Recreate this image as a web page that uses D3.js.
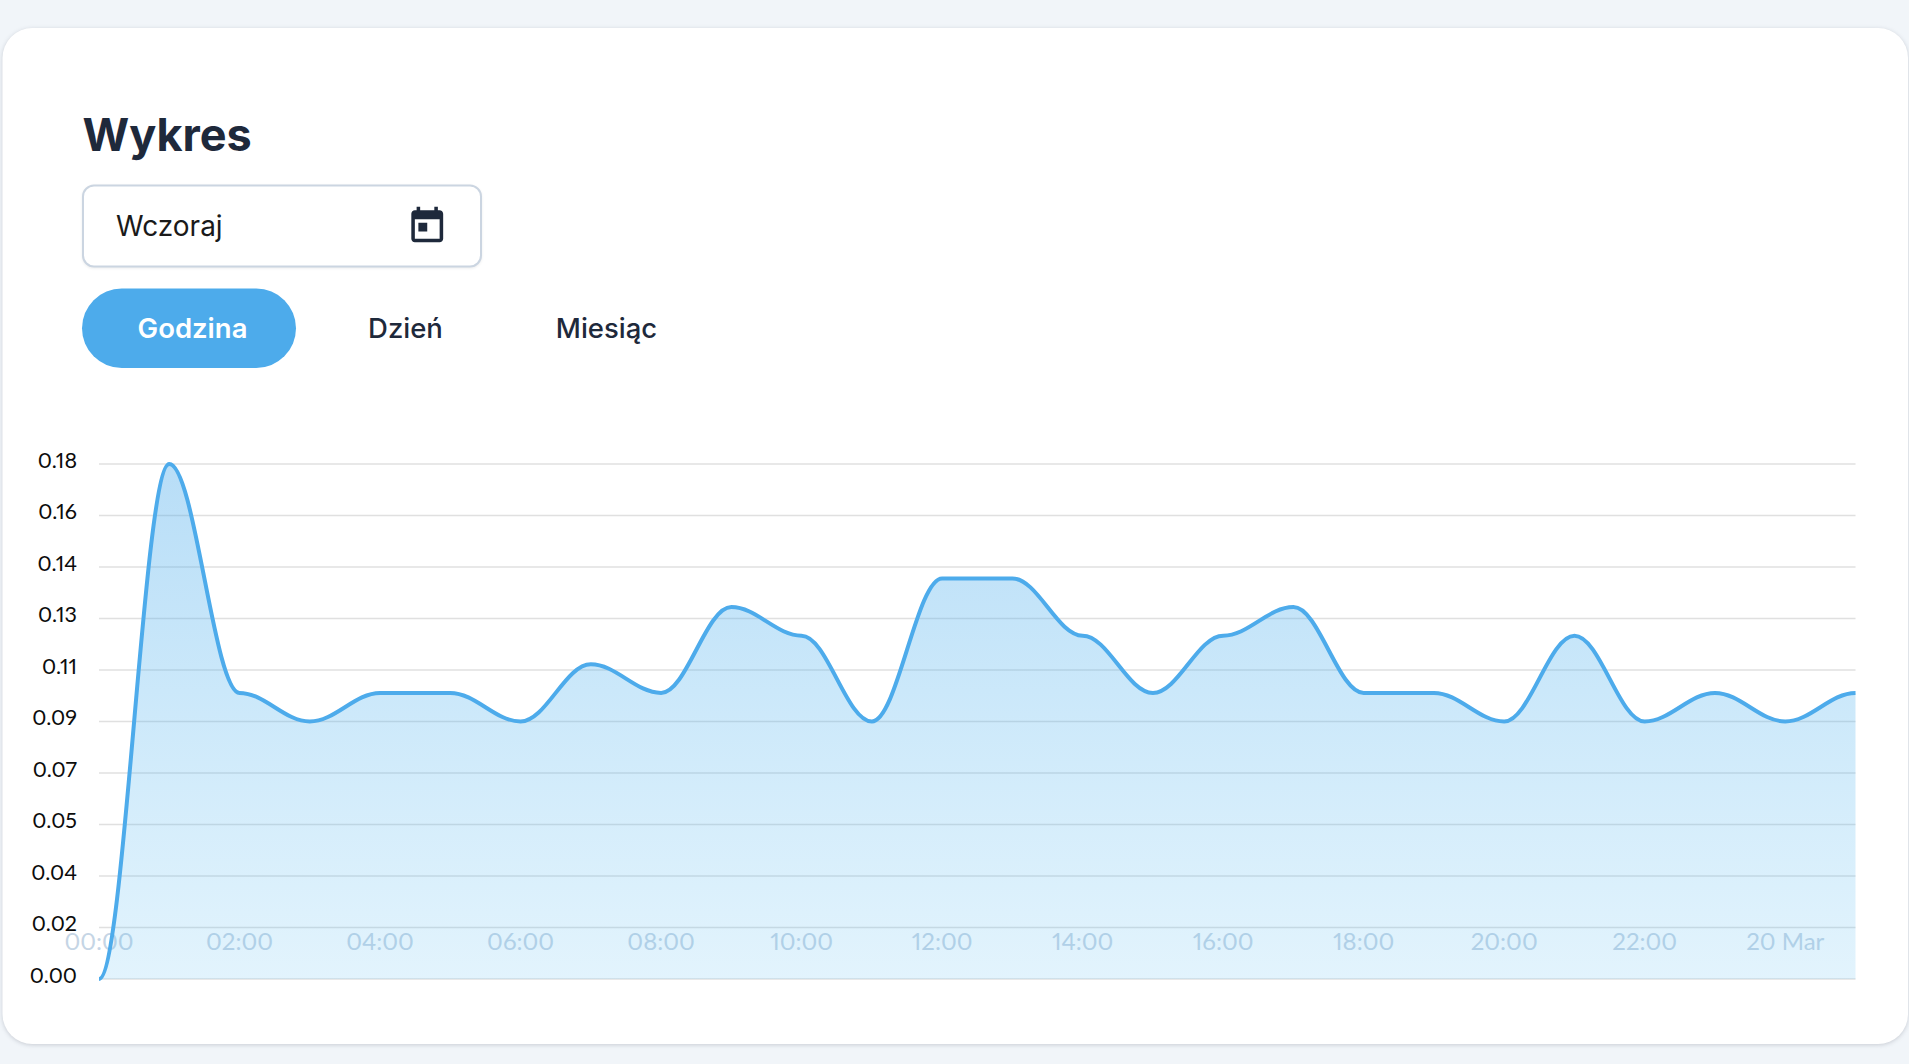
<!DOCTYPE html>
<html><head><meta charset="utf-8">
<script src="https://cdn.jsdelivr.net/npm/d3@7/dist/d3.min.js"></script>
<style>
html,body{margin:0;padding:0;background:#f1f5f9;overflow:hidden}
svg{display:block}
.domain{display:none}
.tick line{display:none}
.tick text{font-variant-numeric:proportional-nums}
</style></head><body><svg id="c" width="1909" height="1064"></svg>
<script>
const hours = ["00:00","01:00","02:00","03:00","04:00","05:00","06:00","07:00","08:00","09:00","10:00","11:00","12:00","13:00","14:00","15:00","16:00","17:00","18:00","19:00","20:00","21:00","22:00","23:00","20 Mar","01:00 "];
const values = [0,0.18,0.10,0.09,0.10,0.10,0.09,0.11,0.10,0.13,0.12,0.09,0.14,0.14,0.12,0.10,0.12,0.13,0.10,0.10,0.09,0.12,0.09,0.10,0.09,0.10];
const yTicks = [0,0.018,0.036,0.054,0.072,0.09,0.108,0.126,0.144,0.162,0.18];
const rangeButtons = ["Godzina","Dzień","Miesiąc"];
const buttonCenters = [192.5,405.5,606.5];

// Bezier segments with horizontal tangents at every point, handles at about a third of the step
function flatCurve(ctx){
  let px, py, n = 0;
  const k = 0.36;
  return {
    lineStart(){ n = 0; },
    lineEnd(){},
    areaStart(){ this._a = 0; },
    areaEnd(){ this._a = NaN; },
    point(x,y){
      x=+x; y=+y;
      if(n===0){ ctx.moveTo(x,y); }
      else if(y===py || x===px){ ctx.lineTo(x,y); }
      else { const d=(x-px)*k; ctx.bezierCurveTo(px+d,py,x-d,y,x,y); }
      n++; px=x; py=y;
    }
  };
}

const UI = "Inter, 'Noto Sans', sans-serif";
const AX = "Lato, 'Noto Sans', sans-serif";
const svg = d3.select("#c");
const defs = svg.append("defs");
const g = defs.append("linearGradient").attr("id","fillG").attr("x1",0).attr("x2",0).attr("y1",0).attr("y2",1);
g.append("stop").attr("offset","0%").attr("stop-color","#4dabeb").attr("stop-opacity",0.40);
g.append("stop").attr("offset","100%").attr("stop-color","#56bbf2").attr("stop-opacity",0.17);

svg.append("rect").attr("x",2.5).attr("y",28).attr("width",1905.5).attr("height",1016).attr("rx",30)
  .attr("fill","#fff").style("filter","drop-shadow(0 1px 2px rgba(15,23,42,.18))");

svg.append("text").text("Wykres").attr("x",82.5).attr("y",151).attr("font-family",UI).attr("font-weight",700).attr("font-size",45).attr("fill","#1e293b");

svg.append("rect").attr("x",83).attr("y",185.5).attr("width",398).attr("height",81).attr("rx",11)
  .attr("fill","#fff").attr("stroke","#cbd5e1").attr("stroke-width",2).style("filter","drop-shadow(0 1px 1px rgba(15,23,42,.08))");
svg.append("text").text("Wczoraj").attr("x",116).attr("y",226).attr("dy","0.35em").attr("font-family",UI).attr("font-size",28).attr("fill","#1a1a1a");
svg.append("path").attr("transform","translate(406,205) scale(1.77)").attr("fill","#1e293b").attr("fill-rule","evenodd")
  .attr("d","M7 10h5v5H7zM16 1v2H8V1H6v2H5c-1.11 0-1.99.9-1.99 2L3 19c0 1.1.89 2 2 2h14c1.1 0 2-.9 2-2V5c0-1.1-.9-2-2-2h-1V1h-2zm3 18H5V8h14v11z");

svg.append("rect").attr("x",82).attr("y",288.5).attr("width",214).attr("height",79.5).attr("rx",39.75).attr("fill","#4dabeb");
svg.selectAll("text.btn").data(rangeButtons).join("text").attr("class","btn").text(d=>d)
  .attr("x",(d,i)=>buttonCenters[i]).attr("y",328).attr("dy","0.35em").attr("text-anchor","middle")
  .attr("font-family",UI).attr("font-weight",(d,i)=>i===0?600:500).attr("font-size",27.5)
  .attr("fill",(d,i)=>i===0?"#fff":"#1e293b");

const x = d3.scalePoint().domain(d3.range(hours.length)).range([99,1855.5]);
const y = d3.scaleLinear().domain([0,0.18]).range([979,464]);

svg.append("g").selectAll("line").data(yTicks).join("line")
  .attr("x1",99).attr("x2",1855.5).attr("y1",d=>y(d)).attr("y2",d=>y(d)).attr("stroke","#e0e0e0").attr("stroke-width",1.6);

const yAxis = svg.append("g").attr("transform","translate(91,-3.5)")
  .call(d3.axisLeft(y).tickValues(yTicks).tickSize(0).tickPadding(14).tickFormat(d=>d.toFixed(2)));
yAxis.selectAll("text").attr("font-family",AX).attr("font-size",21.5).attr("fill","#0c0c0c");

const xTickIdx = hours.map((h,i)=>i).filter(i=>i%2===0 && i<=24);
const xAxis = svg.append("g").attr("transform","translate(0,932.5)")
  .call(d3.axisBottom(x).tickValues(xTickIdx).tickSize(0).tickPadding(0).tickFormat(i=>hours[i]));
xAxis.selectAll("text").attr("font-family",AX).attr("font-size",24).attr("fill","#c5d5e5").attr("dy","0.71em").attr("dx",-0.5);

const line = d3.line().x((d,i)=>x(i)).y(d=>y(d)).curve(flatCurve);
const linePath = line(values);
svg.append("path").attr("d",linePath+`L${x(values.length-1)},${y(0)}L${x(0)},${y(0)}Z`).attr("fill","url(#fillG)");
svg.append("path").attr("d",linePath).attr("fill","none").attr("stroke","#4dabeb").attr("stroke-width",4);
</script></body></html>
